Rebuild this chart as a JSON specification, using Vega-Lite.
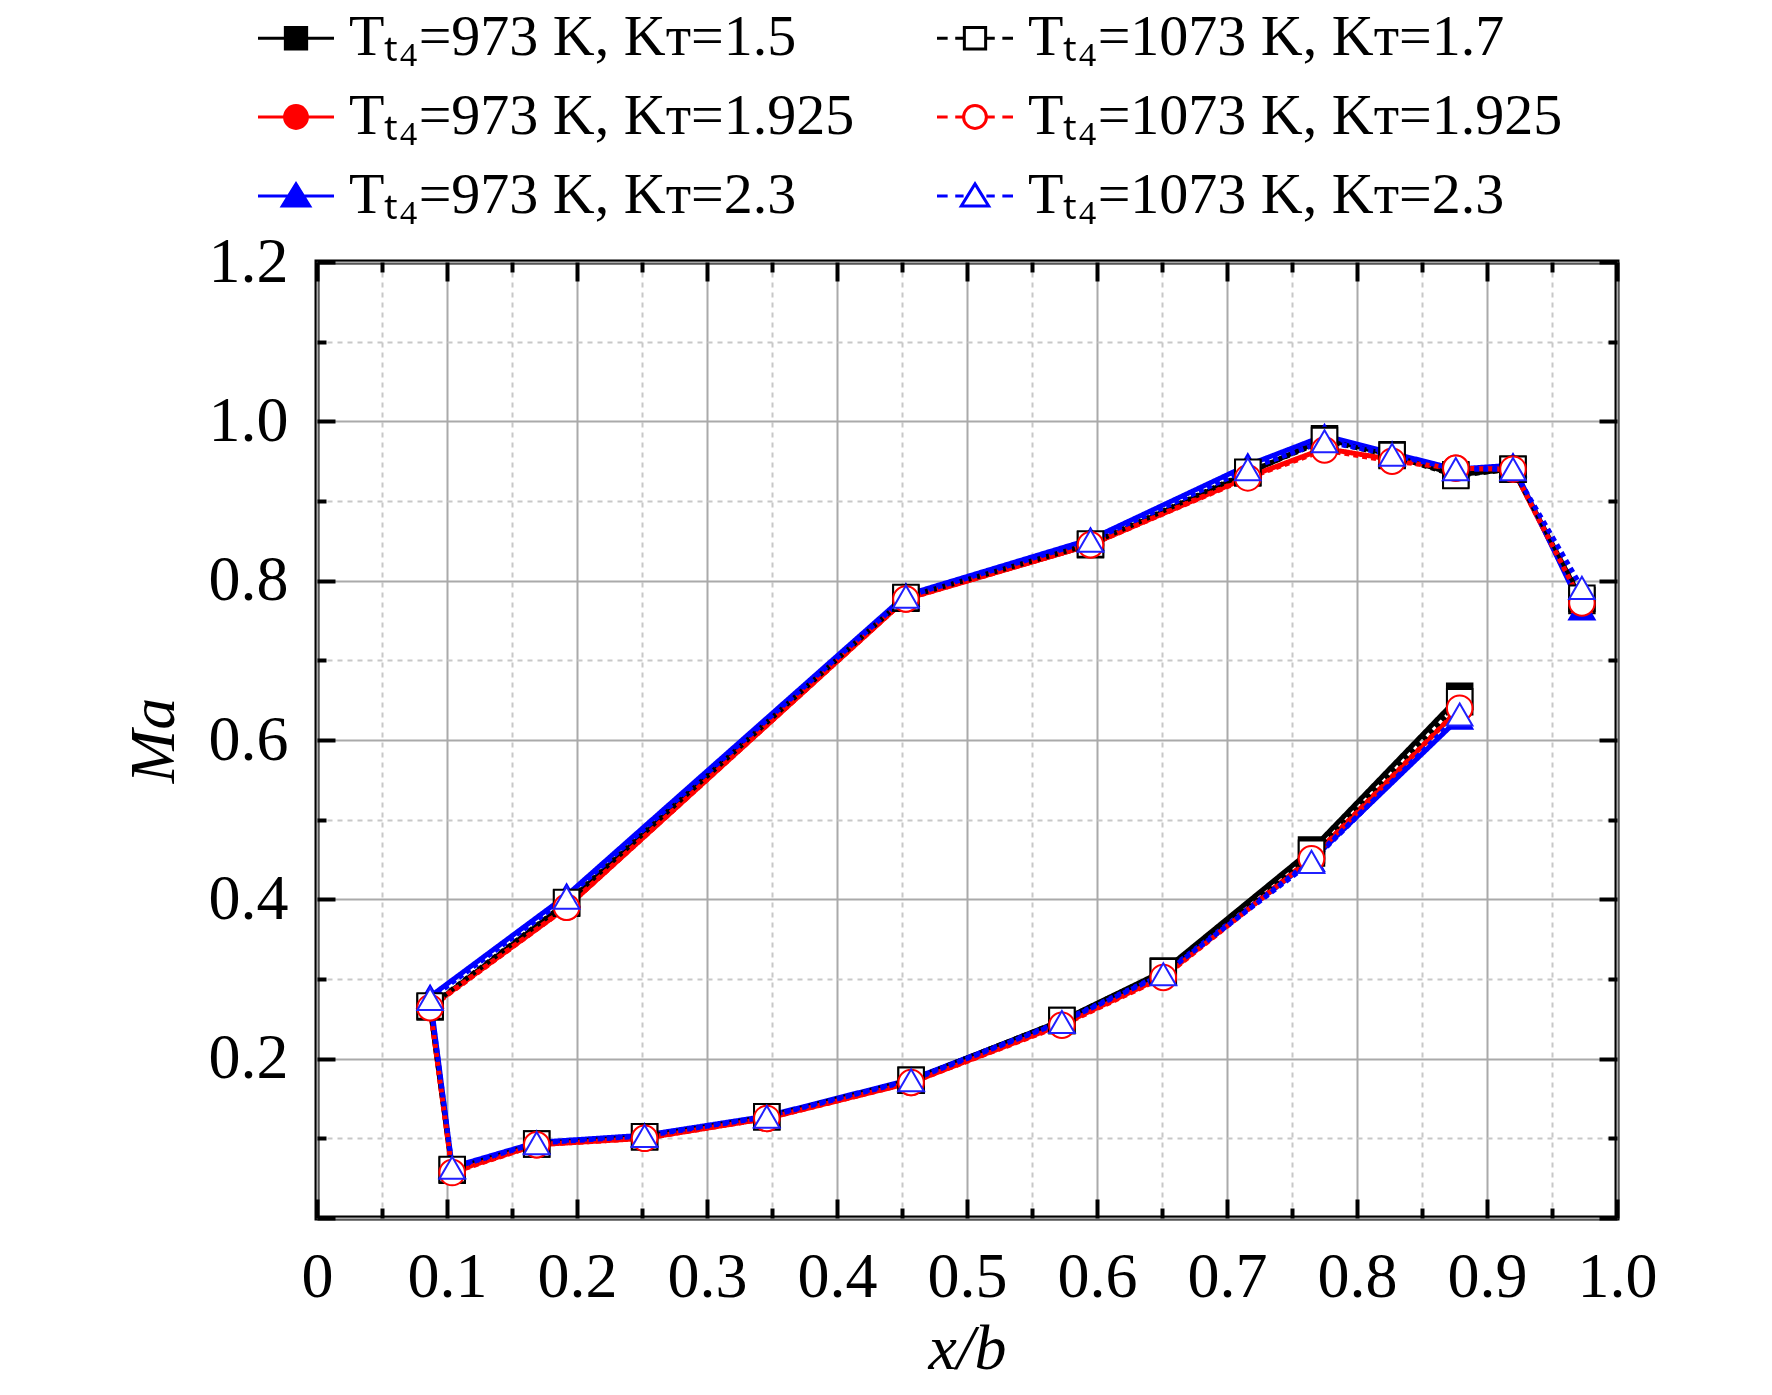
{
  "$schema": "https://vega.github.io/schema/vega-lite/v6.json",
  "width": 1300,
  "height": 956,
  "autosize": {"type": "none"},
  "padding": {"left": 317, "top": 262, "right": 155, "bottom": 177},
  "background": "white",
  "config": {
    "font": "Liberation Serif",
    "view": {"stroke": "black", "strokeWidth": 5}
  },
  "data": {
    "values": [
      {"s": "Tₜ₄=973 K, Kᴛ=1.5", "o": 1, "x": 0.973, "y": 0.775},
      {"s": "Tₜ₄=973 K, Kᴛ=1.5", "o": 2, "x": 0.920, "y": 0.940},
      {"s": "Tₜ₄=973 K, Kᴛ=1.5", "o": 3, "x": 0.876, "y": 0.933},
      {"s": "Tₜ₄=973 K, Kᴛ=1.5", "o": 4, "x": 0.827, "y": 0.958},
      {"s": "Tₜ₄=973 K, Kᴛ=1.5", "o": 5, "x": 0.775, "y": 0.978},
      {"s": "Tₜ₄=973 K, Kᴛ=1.5", "o": 6, "x": 0.716, "y": 0.935},
      {"s": "Tₜ₄=973 K, Kᴛ=1.5", "o": 7, "x": 0.595, "y": 0.845},
      {"s": "Tₜ₄=973 K, Kᴛ=1.5", "o": 8, "x": 0.453, "y": 0.778},
      {"s": "Tₜ₄=973 K, Kᴛ=1.5", "o": 9, "x": 0.192, "y": 0.395},
      {"s": "Tₜ₄=973 K, Kᴛ=1.5", "o": 10, "x": 0.087, "y": 0.265},
      {"s": "Tₜ₄=973 K, Kᴛ=1.5", "o": 11, "x": 0.104, "y": 0.060},
      {"s": "Tₜ₄=973 K, Kᴛ=1.5", "o": 12, "x": 0.169, "y": 0.093},
      {"s": "Tₜ₄=973 K, Kᴛ=1.5", "o": 13, "x": 0.252, "y": 0.102},
      {"s": "Tₜ₄=973 K, Kᴛ=1.5", "o": 14, "x": 0.346, "y": 0.127},
      {"s": "Tₜ₄=973 K, Kᴛ=1.5", "o": 15, "x": 0.457, "y": 0.173},
      {"s": "Tₜ₄=973 K, Kᴛ=1.5", "o": 16, "x": 0.573, "y": 0.248},
      {"s": "Tₜ₄=973 K, Kᴛ=1.5", "o": 17, "x": 0.651, "y": 0.310},
      {"s": "Tₜ₄=973 K, Kᴛ=1.5", "o": 18, "x": 0.765, "y": 0.462},
      {"s": "Tₜ₄=973 K, Kᴛ=1.5", "o": 19, "x": 0.879, "y": 0.655},

      {"s": "Tₜ₄=973 K, Kᴛ=1.925", "o": 1, "x": 0.973, "y": 0.770},
      {"s": "Tₜ₄=973 K, Kᴛ=1.925", "o": 2, "x": 0.920, "y": 0.940},
      {"s": "Tₜ₄=973 K, Kᴛ=1.925", "o": 3, "x": 0.876, "y": 0.941},
      {"s": "Tₜ₄=973 K, Kᴛ=1.925", "o": 4, "x": 0.827, "y": 0.952},
      {"s": "Tₜ₄=973 K, Kᴛ=1.925", "o": 5, "x": 0.775, "y": 0.966},
      {"s": "Tₜ₄=973 K, Kᴛ=1.925", "o": 6, "x": 0.716, "y": 0.930},
      {"s": "Tₜ₄=973 K, Kᴛ=1.925", "o": 7, "x": 0.595, "y": 0.845},
      {"s": "Tₜ₄=973 K, Kᴛ=1.925", "o": 8, "x": 0.453, "y": 0.777},
      {"s": "Tₜ₄=973 K, Kᴛ=1.925", "o": 9, "x": 0.192, "y": 0.390},
      {"s": "Tₜ₄=973 K, Kᴛ=1.925", "o": 10, "x": 0.087, "y": 0.265},
      {"s": "Tₜ₄=973 K, Kᴛ=1.925", "o": 11, "x": 0.104, "y": 0.058},
      {"s": "Tₜ₄=973 K, Kᴛ=1.925", "o": 12, "x": 0.169, "y": 0.092},
      {"s": "Tₜ₄=973 K, Kᴛ=1.925", "o": 13, "x": 0.252, "y": 0.100},
      {"s": "Tₜ₄=973 K, Kᴛ=1.925", "o": 14, "x": 0.346, "y": 0.125},
      {"s": "Tₜ₄=973 K, Kᴛ=1.925", "o": 15, "x": 0.457, "y": 0.170},
      {"s": "Tₜ₄=973 K, Kᴛ=1.925", "o": 16, "x": 0.573, "y": 0.243},
      {"s": "Tₜ₄=973 K, Kᴛ=1.925", "o": 17, "x": 0.651, "y": 0.303},
      {"s": "Tₜ₄=973 K, Kᴛ=1.925", "o": 18, "x": 0.765, "y": 0.452},
      {"s": "Tₜ₄=973 K, Kᴛ=1.925", "o": 19, "x": 0.879, "y": 0.640},

      {"s": "Tₜ₄=973 K, Kᴛ=2.3", "o": 1, "x": 0.973, "y": 0.765},
      {"s": "Tₜ₄=973 K, Kᴛ=2.3", "o": 2, "x": 0.920, "y": 0.945},
      {"s": "Tₜ₄=973 K, Kᴛ=2.3", "o": 3, "x": 0.876, "y": 0.940},
      {"s": "Tₜ₄=973 K, Kᴛ=2.3", "o": 4, "x": 0.827, "y": 0.960},
      {"s": "Tₜ₄=973 K, Kᴛ=2.3", "o": 5, "x": 0.775, "y": 0.982},
      {"s": "Tₜ₄=973 K, Kᴛ=2.3", "o": 6, "x": 0.716, "y": 0.945},
      {"s": "Tₜ₄=973 K, Kᴛ=2.3", "o": 7, "x": 0.595, "y": 0.852},
      {"s": "Tₜ₄=973 K, Kᴛ=2.3", "o": 8, "x": 0.453, "y": 0.782},
      {"s": "Tₜ₄=973 K, Kᴛ=2.3", "o": 9, "x": 0.192, "y": 0.405},
      {"s": "Tₜ₄=973 K, Kᴛ=2.3", "o": 10, "x": 0.087, "y": 0.278},
      {"s": "Tₜ₄=973 K, Kᴛ=2.3", "o": 11, "x": 0.104, "y": 0.064},
      {"s": "Tₜ₄=973 K, Kᴛ=2.3", "o": 12, "x": 0.169, "y": 0.095},
      {"s": "Tₜ₄=973 K, Kᴛ=2.3", "o": 13, "x": 0.252, "y": 0.104},
      {"s": "Tₜ₄=973 K, Kᴛ=2.3", "o": 14, "x": 0.346, "y": 0.128},
      {"s": "Tₜ₄=973 K, Kᴛ=2.3", "o": 15, "x": 0.457, "y": 0.174},
      {"s": "Tₜ₄=973 K, Kᴛ=2.3", "o": 16, "x": 0.573, "y": 0.247},
      {"s": "Tₜ₄=973 K, Kᴛ=2.3", "o": 17, "x": 0.651, "y": 0.307},
      {"s": "Tₜ₄=973 K, Kᴛ=2.3", "o": 18, "x": 0.765, "y": 0.449},
      {"s": "Tₜ₄=973 K, Kᴛ=2.3", "o": 19, "x": 0.879, "y": 0.628},

      {"s": "Tₜ₄=1073 K, Kᴛ=1.7", "o": 1, "x": 0.973, "y": 0.778},
      {"s": "Tₜ₄=1073 K, Kᴛ=1.7", "o": 2, "x": 0.920, "y": 0.940},
      {"s": "Tₜ₄=1073 K, Kᴛ=1.7", "o": 3, "x": 0.876, "y": 0.932},
      {"s": "Tₜ₄=1073 K, Kᴛ=1.7", "o": 4, "x": 0.827, "y": 0.957},
      {"s": "Tₜ₄=1073 K, Kᴛ=1.7", "o": 5, "x": 0.775, "y": 0.976},
      {"s": "Tₜ₄=1073 K, Kᴛ=1.7", "o": 6, "x": 0.716, "y": 0.936},
      {"s": "Tₜ₄=1073 K, Kᴛ=1.7", "o": 7, "x": 0.595, "y": 0.846},
      {"s": "Tₜ₄=1073 K, Kᴛ=1.7", "o": 8, "x": 0.453, "y": 0.779},
      {"s": "Tₜ₄=1073 K, Kᴛ=1.7", "o": 9, "x": 0.192, "y": 0.396},
      {"s": "Tₜ₄=1073 K, Kᴛ=1.7", "o": 10, "x": 0.087, "y": 0.266},
      {"s": "Tₜ₄=1073 K, Kᴛ=1.7", "o": 11, "x": 0.104, "y": 0.061},
      {"s": "Tₜ₄=1073 K, Kᴛ=1.7", "o": 12, "x": 0.169, "y": 0.093},
      {"s": "Tₜ₄=1073 K, Kᴛ=1.7", "o": 13, "x": 0.252, "y": 0.102},
      {"s": "Tₜ₄=1073 K, Kᴛ=1.7", "o": 14, "x": 0.346, "y": 0.127},
      {"s": "Tₜ₄=1073 K, Kᴛ=1.7", "o": 15, "x": 0.457, "y": 0.173},
      {"s": "Tₜ₄=1073 K, Kᴛ=1.7", "o": 16, "x": 0.573, "y": 0.248},
      {"s": "Tₜ₄=1073 K, Kᴛ=1.7", "o": 17, "x": 0.651, "y": 0.309},
      {"s": "Tₜ₄=1073 K, Kᴛ=1.7", "o": 18, "x": 0.765, "y": 0.458},
      {"s": "Tₜ₄=1073 K, Kᴛ=1.7", "o": 19, "x": 0.879, "y": 0.648},

      {"s": "Tₜ₄=1073 K, Kᴛ=1.925", "o": 1, "x": 0.973, "y": 0.772},
      {"s": "Tₜ₄=1073 K, Kᴛ=1.925", "o": 2, "x": 0.920, "y": 0.940},
      {"s": "Tₜ₄=1073 K, Kᴛ=1.925", "o": 3, "x": 0.876, "y": 0.941},
      {"s": "Tₜ₄=1073 K, Kᴛ=1.925", "o": 4, "x": 0.827, "y": 0.950},
      {"s": "Tₜ₄=1073 K, Kᴛ=1.925", "o": 5, "x": 0.775, "y": 0.964},
      {"s": "Tₜ₄=1073 K, Kᴛ=1.925", "o": 6, "x": 0.716, "y": 0.929},
      {"s": "Tₜ₄=1073 K, Kᴛ=1.925", "o": 7, "x": 0.595, "y": 0.845},
      {"s": "Tₜ₄=1073 K, Kᴛ=1.925", "o": 8, "x": 0.453, "y": 0.777},
      {"s": "Tₜ₄=1073 K, Kᴛ=1.925", "o": 9, "x": 0.192, "y": 0.390},
      {"s": "Tₜ₄=1073 K, Kᴛ=1.925", "o": 10, "x": 0.087, "y": 0.264},
      {"s": "Tₜ₄=1073 K, Kᴛ=1.925", "o": 11, "x": 0.104, "y": 0.057},
      {"s": "Tₜ₄=1073 K, Kᴛ=1.925", "o": 12, "x": 0.169, "y": 0.092},
      {"s": "Tₜ₄=1073 K, Kᴛ=1.925", "o": 13, "x": 0.252, "y": 0.100},
      {"s": "Tₜ₄=1073 K, Kᴛ=1.925", "o": 14, "x": 0.346, "y": 0.125},
      {"s": "Tₜ₄=1073 K, Kᴛ=1.925", "o": 15, "x": 0.457, "y": 0.170},
      {"s": "Tₜ₄=1073 K, Kᴛ=1.925", "o": 16, "x": 0.573, "y": 0.242},
      {"s": "Tₜ₄=1073 K, Kᴛ=1.925", "o": 17, "x": 0.651, "y": 0.302},
      {"s": "Tₜ₄=1073 K, Kᴛ=1.925", "o": 18, "x": 0.765, "y": 0.451},
      {"s": "Tₜ₄=1073 K, Kᴛ=1.925", "o": 19, "x": 0.879, "y": 0.640},

      {"s": "Tₜ₄=1073 K, Kᴛ=2.3", "o": 1, "x": 0.973, "y": 0.791},
      {"s": "Tₜ₄=1073 K, Kᴛ=2.3", "o": 2, "x": 0.920, "y": 0.940},
      {"s": "Tₜ₄=1073 K, Kᴛ=2.3", "o": 3, "x": 0.876, "y": 0.940},
      {"s": "Tₜ₄=1073 K, Kᴛ=2.3", "o": 4, "x": 0.827, "y": 0.958},
      {"s": "Tₜ₄=1073 K, Kᴛ=2.3", "o": 5, "x": 0.775, "y": 0.975},
      {"s": "Tₜ₄=1073 K, Kᴛ=2.3", "o": 6, "x": 0.716, "y": 0.940},
      {"s": "Tₜ₄=1073 K, Kᴛ=2.3", "o": 7, "x": 0.595, "y": 0.850},
      {"s": "Tₜ₄=1073 K, Kᴛ=2.3", "o": 8, "x": 0.453, "y": 0.780},
      {"s": "Tₜ₄=1073 K, Kᴛ=2.3", "o": 9, "x": 0.192, "y": 0.402},
      {"s": "Tₜ₄=1073 K, Kᴛ=2.3", "o": 10, "x": 0.087, "y": 0.275},
      {"s": "Tₜ₄=1073 K, Kᴛ=2.3", "o": 11, "x": 0.104, "y": 0.063},
      {"s": "Tₜ₄=1073 K, Kᴛ=2.3", "o": 12, "x": 0.169, "y": 0.094},
      {"s": "Tₜ₄=1073 K, Kᴛ=2.3", "o": 13, "x": 0.252, "y": 0.103},
      {"s": "Tₜ₄=1073 K, Kᴛ=2.3", "o": 14, "x": 0.346, "y": 0.127},
      {"s": "Tₜ₄=1073 K, Kᴛ=2.3", "o": 15, "x": 0.457, "y": 0.173},
      {"s": "Tₜ₄=1073 K, Kᴛ=2.3", "o": 16, "x": 0.573, "y": 0.246},
      {"s": "Tₜ₄=1073 K, Kᴛ=2.3", "o": 17, "x": 0.651, "y": 0.306},
      {"s": "Tₜ₄=1073 K, Kᴛ=2.3", "o": 18, "x": 0.765, "y": 0.447},
      {"s": "Tₜ₄=1073 K, Kᴛ=2.3", "o": 19, "x": 0.879, "y": 0.632}
    ]
  },
  "resolve": {
    "scale": {"shape": "independent", "stroke": "independent", "fill": "independent", "strokeDash": "independent", "strokeWidth": "independent"},
    "axis": {"x": "independent", "y": "independent"}
  },
  "layer": [
    {
      "mark": {"type": "line", "strokeCap": "butt", "strokeJoin": "round"},
      "encoding": {
        "x": {
          "field": "x", "type": "quantitative",
          "scale": {"domain": [0, 1], "nice": false, "zero": false},
          "axis": {
            "orient": "bottom",
            "values": [0, 0.1, 0.2, 0.3, 0.4, 0.5, 0.6, 0.7, 0.8, 0.9, 1.0],
            "labelExpr": "datum.value == 0 ? '0' : format(datum.value, '.1f')",
            "domain": false,
            "grid": true, "gridColor": "#aaaaaa", "gridWidth": 2,
            "ticks": true, "tickSize": -19, "tickWidth": 4, "tickColor": "black",
            "labelFont": "Liberation Serif", "labelFontSize": 64, "labelColor": "black",
            "labelBaseline": "alphabetic", "labelPadding": 97,
            "labelFlush": false, "labelOverlap": false,
            "title": "x/b", "titleFont": "Liberation Serif", "titleFontSize": 64,
            "titleFontStyle": "italic", "titleFontWeight": "normal", "titleColor": "black",
            "titlePadding": 8
          }
        },
        "y": {
          "field": "y", "type": "quantitative",
          "scale": {"domain": [0, 1.2], "nice": false, "zero": false},
          "axis": {
            "orient": "left",
            "values": [0, 0.2, 0.4, 0.6, 0.8, 1.0, 1.2],
            "labelExpr": "datum.value == 0 ? '' : format(datum.value, '.1f')",
            "domain": false,
            "grid": true, "gridColor": "#aaaaaa", "gridWidth": 2,
            "ticks": true, "tickSize": -18, "tickWidth": 4, "tickColor": "black",
            "labelFont": "Liberation Serif", "labelFontSize": 64, "labelColor": "black",
            "labelPadding": 47, "labelFlush": false, "labelOverlap": false,
            "title": "Ma", "titleFont": "Liberation Serif", "titleFontSize": 64,
            "titleFontStyle": "italic", "titleFontWeight": "normal", "titleColor": "black",
            "titlePadding": 22
          }
        },
        "detail": {"field": "s"},
        "order": {"field": "o", "type": "quantitative"},
        "stroke": {
          "field": "s", "type": "nominal", "legend": null,
          "scale": {
            "domain": ["Tₜ₄=973 K, Kᴛ=1.5", "Tₜ₄=973 K, Kᴛ=1.925", "Tₜ₄=973 K, Kᴛ=2.3", "Tₜ₄=1073 K, Kᴛ=1.7", "Tₜ₄=1073 K, Kᴛ=1.925", "Tₜ₄=1073 K, Kᴛ=2.3"],
            "range": ["#000000", "#ff0000", "#0000ff", "#000000", "#ff0000", "#0000ff"]
          }
        },
        "strokeDash": {
          "field": "s", "type": "nominal", "legend": null,
          "scale": {
            "domain": ["Tₜ₄=973 K, Kᴛ=1.5", "Tₜ₄=973 K, Kᴛ=1.925", "Tₜ₄=973 K, Kᴛ=2.3", "Tₜ₄=1073 K, Kᴛ=1.7", "Tₜ₄=1073 K, Kᴛ=1.925", "Tₜ₄=1073 K, Kᴛ=2.3"],
            "range": [[1, 0], [1, 0], [1, 0], [5, 4], [5, 4], [5, 4]]
          }
        },
        "strokeWidth": {
          "field": "s", "type": "nominal", "legend": null,
          "scale": {
            "domain": ["Tₜ₄=973 K, Kᴛ=1.5", "Tₜ₄=973 K, Kᴛ=1.925", "Tₜ₄=973 K, Kᴛ=2.3", "Tₜ₄=1073 K, Kᴛ=1.7", "Tₜ₄=1073 K, Kᴛ=1.925", "Tₜ₄=1073 K, Kᴛ=2.3"],
            "range": [5, 5, 5, 4, 4, 4]
          }
        }
      }
    },
    {
      "mark": {"type": "point", "opacity": 1, "strokeWidth": 2},
      "encoding": {
        "x": {
          "field": "x", "type": "quantitative",
          "axis": {
            "orient": "bottom",
            "values": [0.05, 0.15, 0.25, 0.35, 0.45, 0.55, 0.65, 0.75, 0.85, 0.95],
            "labels": false, "domain": false, "title": null,
            "grid": true, "gridColor": "#c8c8c8", "gridWidth": 2, "gridDash": [5, 5],
            "ticks": true, "tickSize": -10, "tickWidth": 4, "tickColor": "black"
          }
        },
        "y": {
          "field": "y", "type": "quantitative",
          "axis": {
            "orient": "left",
            "values": [0.1, 0.3, 0.5, 0.7, 0.9, 1.1],
            "labels": false, "domain": false, "title": null,
            "grid": true, "gridColor": "#c8c8c8", "gridWidth": 2, "gridDash": [5, 5],
            "ticks": true, "tickSize": -9, "tickWidth": 4, "tickColor": "black"
          }
        },
        "size": {"value": 650},
        "shape": {
          "field": "s", "type": "nominal", "legend": null,
          "scale": {
            "domain": ["Tₜ₄=973 K, Kᴛ=1.5", "Tₜ₄=973 K, Kᴛ=1.925", "Tₜ₄=973 K, Kᴛ=2.3", "Tₜ₄=1073 K, Kᴛ=1.7", "Tₜ₄=1073 K, Kᴛ=1.925", "Tₜ₄=1073 K, Kᴛ=2.3"],
            "range": ["square", "circle", "triangle-up", "square", "circle", "triangle-up"]
          }
        },
        "stroke": {
          "field": "s", "type": "nominal", "legend": null,
          "scale": {
            "domain": ["Tₜ₄=973 K, Kᴛ=1.5", "Tₜ₄=973 K, Kᴛ=1.925", "Tₜ₄=973 K, Kᴛ=2.3", "Tₜ₄=1073 K, Kᴛ=1.7", "Tₜ₄=1073 K, Kᴛ=1.925", "Tₜ₄=1073 K, Kᴛ=2.3"],
            "range": ["#000000", "#ff0000", "#0000ff", "#000000", "#ff0000", "#2020ff"]
          }
        },
        "fill": {
          "field": "s", "type": "nominal", "legend": null,
          "scale": {
            "domain": ["Tₜ₄=973 K, Kᴛ=1.5", "Tₜ₄=973 K, Kᴛ=1.925", "Tₜ₄=973 K, Kᴛ=2.3", "Tₜ₄=1073 K, Kᴛ=1.7", "Tₜ₄=1073 K, Kᴛ=1.925", "Tₜ₄=1073 K, Kᴛ=2.3"],
            "range": ["#000000", "#ff0000", "#0000ff", "#ffffff", "#ffffff", "#ffffff"]
          }
        }
      }
    },
    {
      "transform": [{"filter": "false"}],
      "mark": {"type": "point", "opacity": 1},
      "encoding": {
        "x": {
          "field": "x", "type": "quantitative",
          "axis": {
            "orient": "top",
            "values": [0, 0.1, 0.2, 0.3, 0.4, 0.5, 0.6, 0.7, 0.8, 0.9, 1.0],
            "labels": false, "domain": false, "title": null, "grid": false,
            "ticks": true, "tickSize": -19, "tickWidth": 4, "tickColor": "black"
          }
        },
        "y": {
          "field": "y", "type": "quantitative",
          "axis": {
            "orient": "right",
            "values": [0, 0.2, 0.4, 0.6, 0.8, 1.0, 1.2],
            "labels": false, "domain": false, "title": null, "grid": false,
            "ticks": true, "tickSize": -18, "tickWidth": 4, "tickColor": "black"
          }
        },
        "shape": {
          "field": "s", "type": "nominal",
          "scale": {
            "domain": ["Tₜ₄=973 K, Kᴛ=1.5", "Tₜ₄=973 K, Kᴛ=1.925", "Tₜ₄=973 K, Kᴛ=2.3", "Tₜ₄=1073 K, Kᴛ=1.7", "Tₜ₄=1073 K, Kᴛ=1.925", "Tₜ₄=1073 K, Kᴛ=2.3"],
            "range": [
              "M-1,0H1M-0.28,-0.28H0.28V0.28H-0.28Z",
              "M-1,0H1M0.3,0A0.3,0.3,0,1,1,-0.3,0A0.3,0.3,0,1,1,0.3,0Z",
              "M-1,0H1M0,-0.32L0.36,0.26H-0.36Z",
              "M-1,0H-0.72M-0.52,0H-0.28M0.28,0H0.52M0.72,0H1M-0.28,-0.28H0.28V0.28H-0.28Z",
              "M-1,0H-0.72M-0.52,0H-0.3M0.3,0H0.52M0.72,0H1M0.3,0A0.3,0.3,0,1,1,-0.3,0A0.3,0.3,0,1,1,0.3,0Z",
              "M-1,0H-0.72M-0.52,0H-0.3M0.3,0H0.52M0.72,0H1M0,-0.32L0.36,0.26H-0.36Z"
            ]
          },
          "legend": {
            "orient": "none", "legendX": -60.5, "legendY": -263.5, "columns": 2, "title": null,
            "padding": 0, "rowPadding": 10, "columnPadding": 76,
            "symbolSize": 5776, "symbolStrokeWidth": 3, "symbolFillColor": "white", "symbolStrokeColor": "black",
            "labelFont": "Liberation Serif", "labelFontSize": 58, "labelColor": "black",
            "labelOffset": 13.5, "labelLimit": 1000
          }
        },
        "stroke": {
          "field": "s", "type": "nominal",
          "scale": {
            "domain": ["Tₜ₄=973 K, Kᴛ=1.5", "Tₜ₄=973 K, Kᴛ=1.925", "Tₜ₄=973 K, Kᴛ=2.3", "Tₜ₄=1073 K, Kᴛ=1.7", "Tₜ₄=1073 K, Kᴛ=1.925", "Tₜ₄=1073 K, Kᴛ=2.3"],
            "range": ["#000000", "#ff0000", "#0000ff", "#000000", "#ff0000", "#0000ff"]
          },
          "legend": {
            "orient": "none", "legendX": -60.5, "legendY": -263.5, "columns": 2, "title": null,
            "padding": 0, "rowPadding": 10, "columnPadding": 76,
            "symbolSize": 5776, "symbolStrokeWidth": 3, "symbolFillColor": "white", "symbolStrokeColor": "black",
            "labelFont": "Liberation Serif", "labelFontSize": 58, "labelColor": "black",
            "labelOffset": 13.5, "labelLimit": 1000
          }
        },
        "fill": {
          "field": "s", "type": "nominal",
          "scale": {
            "domain": ["Tₜ₄=973 K, Kᴛ=1.5", "Tₜ₄=973 K, Kᴛ=1.925", "Tₜ₄=973 K, Kᴛ=2.3", "Tₜ₄=1073 K, Kᴛ=1.7", "Tₜ₄=1073 K, Kᴛ=1.925", "Tₜ₄=1073 K, Kᴛ=2.3"],
            "range": ["#000000", "#ff0000", "#0000ff", "#ffffff", "#ffffff", "#ffffff"]
          },
          "legend": {
            "orient": "none", "legendX": -60.5, "legendY": -263.5, "columns": 2, "title": null,
            "padding": 0, "rowPadding": 10, "columnPadding": 76,
            "symbolSize": 5776, "symbolStrokeWidth": 3, "symbolFillColor": "white", "symbolStrokeColor": "black",
            "labelFont": "Liberation Serif", "labelFontSize": 58, "labelColor": "black",
            "labelOffset": 13.5, "labelLimit": 1000
          }
        }
      }
    },
    {
      "transform": [{"filter": "false"}],
      "mark": {"type": "point", "opacity": 0},
      "encoding": {
        "x": {
          "field": "x", "type": "quantitative",
          "axis": {
            "orient": "top",
            "values": [0.05, 0.15, 0.25, 0.35, 0.45, 0.55, 0.65, 0.75, 0.85, 0.95],
            "labels": false, "domain": false, "title": null, "grid": false,
            "ticks": true, "tickSize": -10, "tickWidth": 4, "tickColor": "black"
          }
        },
        "y": {
          "field": "y", "type": "quantitative",
          "axis": {
            "orient": "right",
            "values": [0.1, 0.3, 0.5, 0.7, 0.9, 1.1],
            "labels": false, "domain": false, "title": null, "grid": false,
            "ticks": true, "tickSize": -9, "tickWidth": 4, "tickColor": "black"
          }
        }
      }
    }
  ]
}
